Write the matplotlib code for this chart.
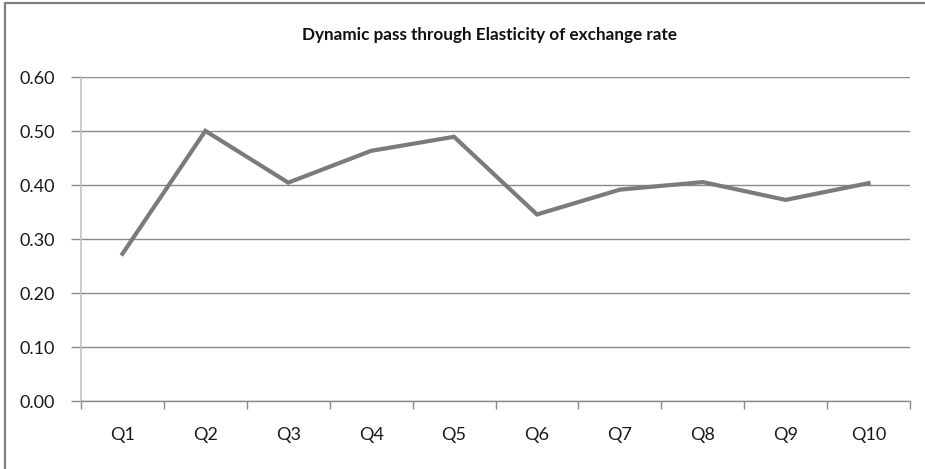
import matplotlib
matplotlib.use("Agg")
import matplotlib.pyplot as plt
from matplotlib.patches import Rectangle
from matplotlib.ticker import FixedLocator, NullFormatter

quarters = ["Q1", "Q2", "Q3", "Q4", "Q5", "Q6", "Q7", "Q8", "Q9", "Q10"]
elasticity = [0.273, 0.501, 0.405, 0.464, 0.490, 0.346, 0.392, 0.406, 0.373, 0.404]
y_ticks = [0.0, 0.1, 0.2, 0.3, 0.4, 0.5, 0.6]
title = "Dynamic pass through Elasticity of exchange rate"

plt.rcParams["font.family"] = ["Lato", "DejaVu Sans"]

W, H = 925, 469
fig = plt.figure(figsize=(W / 100, H / 100), dpi=100)
fig.patch.set_facecolor("white")

# outer chart frame (runs off the right and bottom edges)
frame = Rectangle((5 / W, -0.1), 1.2, 1 - 3 / H + 0.1, transform=fig.transFigure,
                  fill=False, edgecolor="#7f7f7f", linewidth=1.6, clip_on=False)
fig.add_artist(frame)

left, right = 81 / W, 910 / W
bottom, top = 1 - 401 / H, 1 - 77.5 / H
ax = fig.add_axes([left, bottom, right - left, top - bottom])

x = list(range(len(quarters)))
ax.plot(x, elasticity, color="#7b7b7b", linewidth=3.0, solid_joinstyle="miter", zorder=3)

ax.set_xlim(-0.5, len(quarters) - 0.5)
ax.set_ylim(0, 0.6)
ax.set_yticks(y_ticks)
ax.set_yticklabels([f"{v:.2f}" for v in y_ticks])
ax.yaxis.grid(True, color="#8a8a8a", linewidth=1.0)
ax.set_axisbelow(True)

ax.set_xticks(x)
ax.set_xticklabels(quarters)
ax.xaxis.set_minor_locator(FixedLocator([i - 0.5 for i in range(len(quarters) + 1)]))
ax.xaxis.set_minor_formatter(NullFormatter())
ax.tick_params(axis="x", which="major", length=0, pad=19, labelsize=13, labelcolor="#1a1a1a")
ax.tick_params(axis="x", which="minor", length=6, width=1.0, color="#8a8a8a", direction="out")
ax.tick_params(axis="y", length=7, width=1.0, color="#8a8a8a", pad=12, labelsize=13,
               labelcolor="#1a1a1a")

for side in ("top", "right"):
    ax.spines[side].set_visible(False)
ax.spines["left"].set_color("#c4c4c4")
ax.spines["left"].set_linewidth(1.2)
ax.spines["bottom"].set_color("#8a8a8a")
ax.spines["bottom"].set_linewidth(1.0)

fig.text(490 / W, 1 - 35 / H, title, ha="center", va="center", fontsize=12.3,
         fontweight="bold", color="#111111")

fig.savefig("out.png", dpi=100, facecolor="white")
